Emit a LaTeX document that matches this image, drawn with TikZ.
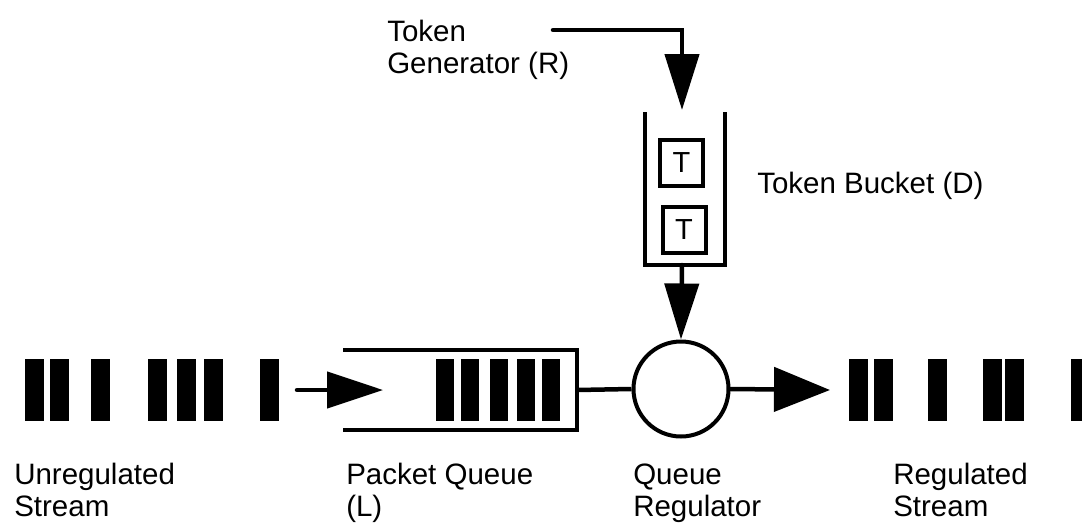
\documentclass[tikz,border=0pt]{standalone}
\usepackage{fontspec}
\setmainfont{Liberation Sans}
\usetikzlibrary{arrows.meta, positioning}

\begin{document}
\begin{tikzpicture}[x=1pt, y=-1pt, line width=4.5pt,
    label/.style={font=\fontsize{29.5}{32}\selectfont, align=left, anchor=base west, inner sep=0pt},
    token/.style={draw, line width=4pt, minimum width=43pt, minimum height=46pt, inner sep=0pt, font=\fontsize{29}{29}\selectfont},
    flow/.style={-{Triangle[length=56pt, width=#1]}, line cap=round},
    flow/.default=36pt]
  \useasboundingbox (0,0) rectangle (1082,525);

  % packets before and after the regulator
  \foreach \x in {25,50,91,148,177,204,260, 849,874,928,983,1005,1071}
    \fill (\x,359) rectangle ++(19,62);
  % packets waiting in the queue
  \foreach \x in {436,461,490,517,542}
    \fill (\x,359) rectangle ++(18,62);

  % packet queue
  \draw (343,350) -- (577,350) -- (577,430) -- (343,430);
  \coordinate (qout) at (577,390);
  \coordinate (in) at (297,390);
  \coordinate (intip) at (383,390);
  \coordinate (out) at (830,390);

  % regulator
  \node[circle, draw, line width=4pt, minimum size=95pt, inner sep=0pt] (reg) at (681,389) {};

  % token bucket
  \draw (645,112) -- (645,265) -- (725,265) -- (725,112);
  \coordinate (btop) at (682,110);
  \coordinate (bbot) at (682,265);
  \node[token] (t1) at (681.5,163) {T};
  \node[token] (t2) at (684,229.5) {T};
  \coordinate (gen) at (553,30);

  \draw[flow] (in) -- (intip);
  \draw (qout) -- (reg.west);
  \draw[flow=44pt] (reg.east) -- (out);
  \draw[flow=34pt] (gen) -| (btop);
  \draw[flow=34pt] (bbot) -- (reg.north);

  % labels (anchored at the baseline of the last line)
  \node[label] (tgen) at (385,73) {Token\\Generator (R)};
  \node[label] (tbuck) at (755,193) {Token Bucket (D)};
  \node[label] (unreg) at (12,516) {Unregulated\\Stream};
  \node[label] (pq) at (344,516) {Packet Queue\\(L)};
  \node[label] (qreg) at (631,516) {Queue\\Regulator};
  \node[label] (regs) at (891,516) {Regulated\\Stream};
\end{tikzpicture}
\end{document}
